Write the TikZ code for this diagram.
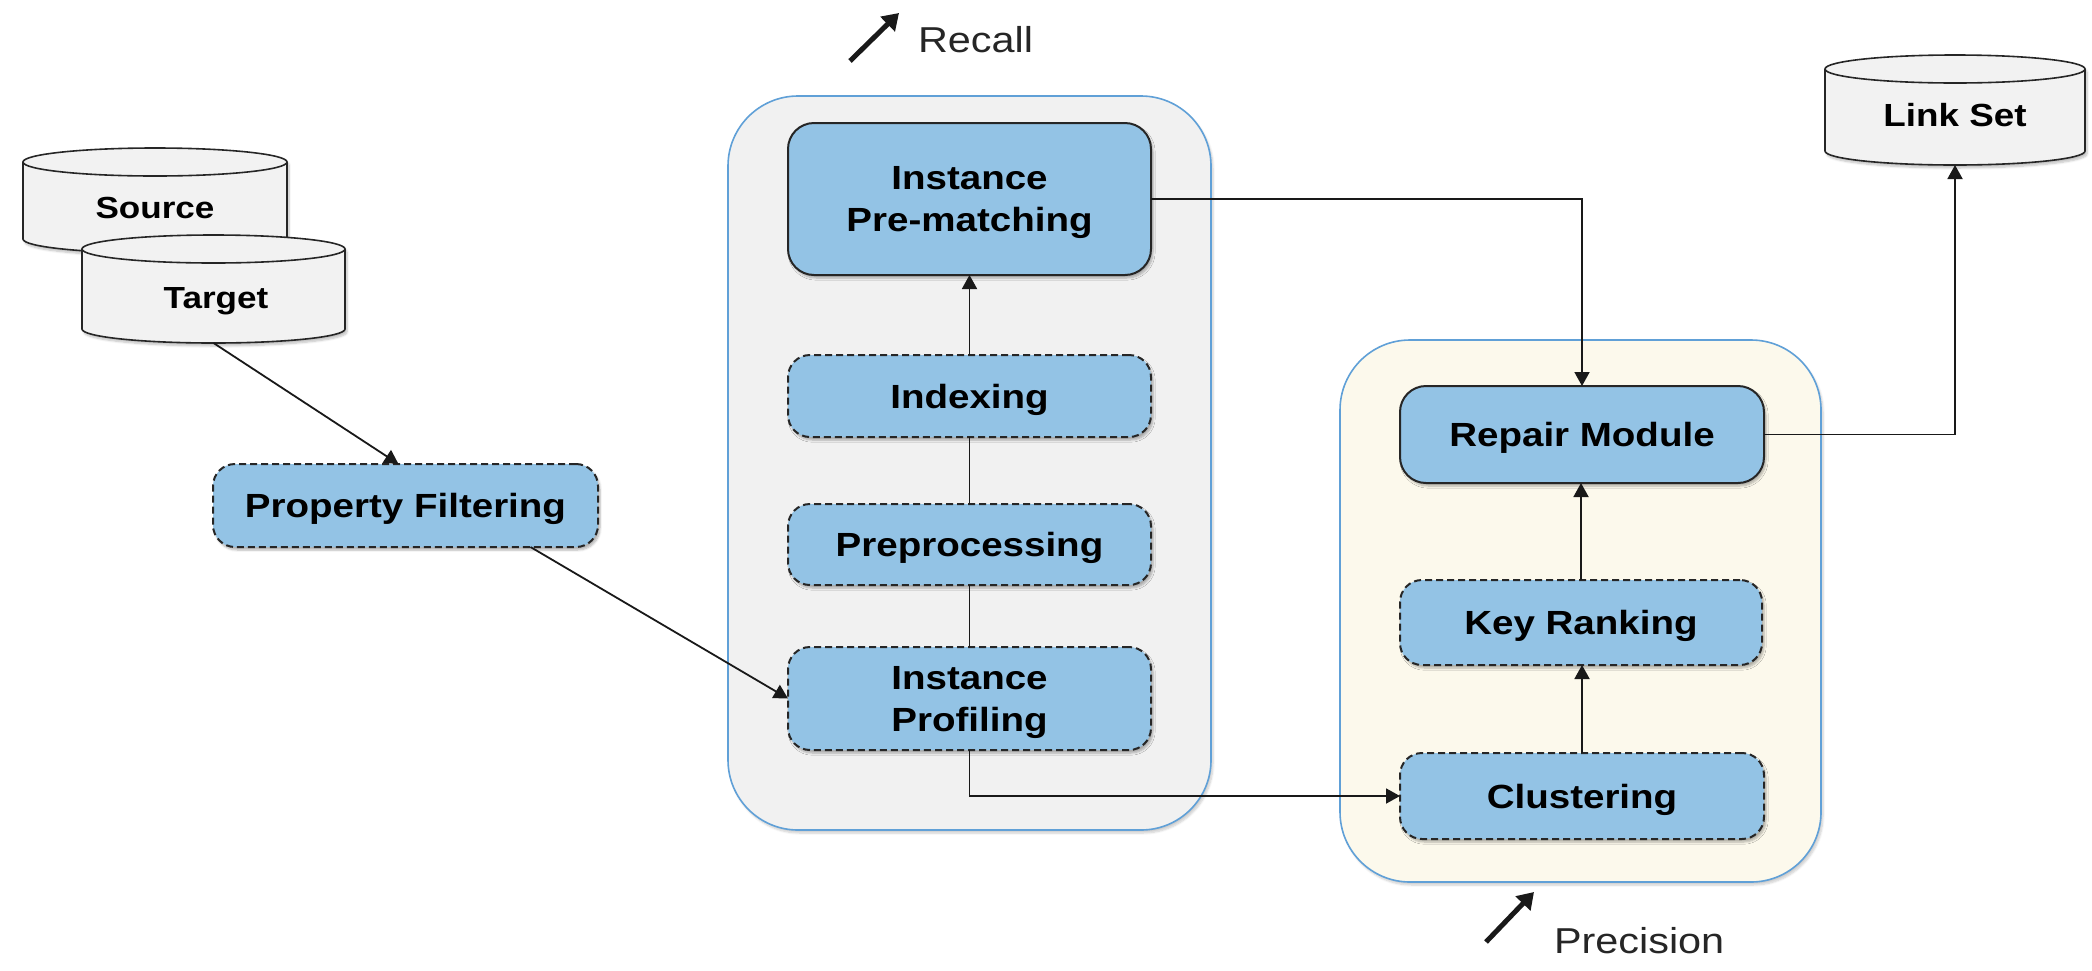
\documentclass[tikz,border=0pt]{standalone}
\usepackage{fontspec}
\setmainfont{Liberation Sans}[FakeStretch=1.15]
\usetikzlibrary{arrows.meta,shadows.blur,calc}
\definecolor{boxblue}{RGB}{147,195,229}
\definecolor{cgray}{RGB}{241,241,241}
\definecolor{cborder}{RGB}{96,160,215}
\definecolor{cream}{RGB}{252,249,236}
\definecolor{cylgray}{RGB}{242,242,242}
\newcommand\mycyl[5]{%
  \pgfmathsetmacro\crx{(#4-#2)/2}%
  \path[fill=cylgray, draw=black!85, line width=1.6pt, blur shadow={shadow xshift=2pt,shadow yshift=-3pt,shadow opacity=25,shadow blur steps=6}]
    (#2,#3+14) -- (#2,#5-14) arc[start angle=180,end angle=360,x radius=\crx pt,y radius=14pt]
    -- (#4,#3+14) arc[start angle=0,end angle=180,x radius=\crx pt,y radius=14pt] -- cycle;
  \draw[line width=1.6pt, black!85] (#2,#3+14) arc[start angle=180,end angle=360,x radius=\crx pt,y radius=14pt];
  \node[minimum width={#4-#2}, minimum height={#5-#3}] (#1) at ({(#2+#4)/2},{(#3+#5)/2}) {};
}
\begin{document}
\begin{tikzpicture}[x=1pt,y=-1pt,
  every node/.style={inner sep=0pt, outer sep=0pt},
  container/.style={draw=cborder, line width=1.6pt, rounded corners=70pt,
    blur shadow={shadow xshift=2pt,shadow yshift=-3pt,shadow opacity=20,shadow blur steps=6}},
  proc/.style={draw=black!85, line width=2pt, fill=boxblue, rounded corners=26pt, align=center,
    font=\fontsize{33.5}{42}\selectfont\bfseries, text depth=0pt,
    blur shadow={shadow xshift=2pt,shadow yshift=-3pt,shadow opacity=30,shadow blur steps=6}},
  dproc/.style={proc, dash pattern=on 7pt off 4pt, rounded corners=22pt},
  conn/.style={line width=1.8pt, black!90},
  arr/.style={conn, -{Triangle[length=14pt,width=15pt]}},
  bigarr/.style={line width=5pt, black!90, -{Triangle[length=16pt,width=20pt]}},
  lab/.style={font=\fontsize{36}{42}\selectfont, anchor=base west, text=black!85},
  cyltext/.style={font=\fontsize{30.5}{36}\selectfont\bfseries, anchor=base},
]
\useasboundingbox (0,0) rectangle (2092,970);

% containers
\node[container, fill=cgray, minimum width=483, minimum height=734] (recallbox) at (969.5,463) {};
\node[container, fill=cream, minimum width=481, minimum height=542] (precbox) at (1580.5,611) {};

% cylinders
\mycyl{src}{23}{148}{287}{253}
\node[cyltext] (srct) at (155,218) {Source};
\mycyl{tgt}{82}{235}{345}{343}
\node[cyltext] (tgtt) at (216,308) {Target};
\mycyl{ls}{1825}{55}{2085}{165}
\node[cyltext, font=\fontsize{32}{38}\selectfont\bfseries] (lst) at (1955,126) {Link Set};

% process boxes
\node[proc, minimum width=363, minimum height=152] (pre) at (969.5,199) {Instance\\Pre-matching};
\node[dproc, minimum width=363, minimum height=82] (idx) at (969.5,396) {Indexing};
\node[dproc, minimum width=363, minimum height=81] (prep) at (969.5,544.5) {Preprocessing};
\node[dproc, minimum width=363, minimum height=103] (prof) at (969.5,698.5) {Instance\\Profiling};
\node[dproc, minimum width=385, minimum height=83] (pf) at (405.5,505.5) {Property Filtering};
\node[proc, minimum width=364, minimum height=97] (rep) at (1582,434.5) {Repair Module};
\node[dproc, minimum width=362, minimum height=85] (key) at (1581,622.5) {Key Ranking};
\node[dproc, minimum width=364, minimum height=86] (clu) at (1582,796) {Clustering};

% connectors
\draw[arr] (tgt.south) -- ([xshift=-7pt]pf.north);
\draw[arr] ([xshift=125pt]pf.south) -- (prof.west);
\draw[conn] (prof.north) -- (prep.south);
\draw[conn] (prep.north) -- (idx.south);
\draw[arr] (idx.north) -- (pre.south);
\draw[arr] (pre.east) -| (rep.north);
\draw[arr] (prof.south) |- (clu.west);
\draw[arr] (clu.north) -- (clu.north |- key.south);
\draw[arr] (key.north) -- (key.north |- rep.south);
\draw[arr] (rep.east) -| (ls.south);

% labels
\coordinate (ra1) at (850,61);
\coordinate (ra2) at (899,13);
\draw[bigarr] (ra1) -- (ra2);
\node[lab] (recall) at (918,52) {Recall};
\coordinate (pa1) at (1486,942);
\coordinate (pa2) at (1534,892);
\draw[bigarr] (pa1) -- (pa2);
\node[lab] (precision) at (1554,953) {Precision};
\end{tikzpicture}
\end{document}
